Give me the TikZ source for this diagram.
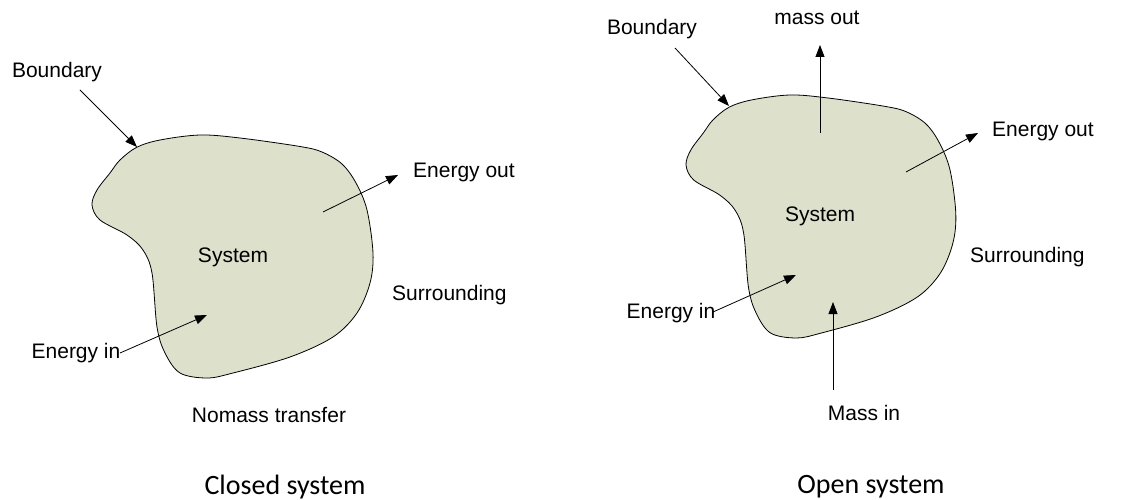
\documentclass[tikz,border=0pt]{standalone}
\usepackage{fontspec}
\setmainfont{Liberation Sans}
\newfontfamily\calibrifont{Carlito}
\usetikzlibrary{arrows.meta}
\definecolor{blobfill}{RGB}{221,225,204}
\newcommand\blobshape{plot[smooth cycle, tension=0.55] coordinates {
 (136.7,147.3) (160,140) (200,135) (240,138) (300,146.5) (322,152) (342,164)
 (356,183) (367,210) (373,253) (370,283) (357,313) (333,337) (290,357) (233,373)
 (207,378) (180,373) (165,353) (157,327) (152,273) (143,250) (127,235)
 (100,220) (92,205) (97,190) (110,173) (120,160)}}
\tikzset{
  lbl/.style={font=\fontsize{21}{24}\selectfont, inner sep=0pt},
  title/.style={font=\calibrifont\fontsize{28}{32}\selectfont, inner sep=0pt},
  arr/.style={line width=0.8pt, -{Triangle[length=12pt,width=9pt]}},
  blob/.style={draw=black, line width=0.8pt, fill=blobfill}
}
\begin{document}
\begin{tikzpicture}[x=1pt,y=-1pt]
\useasboundingbox (0,0) rectangle (1125,500);
% ---------- closed system ----------
\path[blob] \blobshape;
\node[lbl] (bL) at (57,72) {Boundary};
\node[lbl] (sysL) at (233,257) {System};
\node[lbl, anchor=west] (eoL) at (413,172) {Energy out};
\node[lbl, anchor=west] (surL) at (392,295) {Surrounding};
\node[lbl] (eiL) at (76,353) {Energy in};
\node[lbl] (nmL) at (269,415) {Nomass transfer};
\node[title] (tL) at (285,487) {Closed system};
\coordinate (bLs) at (80,90);   \coordinate (bLe) at (137,147);
\coordinate (eoLs) at (323,212); \coordinate (eoLe) at (398,175);
\coordinate (eiLs) at (120,353); \coordinate (eiLe) at (207,315);
\draw[arr] (bLs) -- (bLe);
\draw[arr] (eoLs) -- (eoLe);
\draw[arr] (eiLs) -- (eiLe);
% ---------- open system ----------
\begin{scope}[shift={(597.7,-40)}, xscale=0.96]
\path[blob] \blobshape;
\end{scope}
\node[lbl] (bR) at (652,29) {Boundary};
\node[lbl] (moR) at (817,18) {mass out};
\node[lbl] (sysR) at (820,216) {System};
\node[lbl, anchor=west] (eoR) at (992,131) {Energy out};
\node[lbl, anchor=west] (surR) at (970,257) {Surrounding};
\node[lbl] (eiR) at (671,313) {Energy in};
\node[lbl] (miR) at (864,413) {Mass in};
\node[title] (tR) at (871,487) {Open system};
\coordinate (bRs) at (675,48);   \coordinate (bRe) at (729,106);
\coordinate (moRs) at (820,133); \coordinate (moRe) at (820,45);
\coordinate (eoRs) at (906,172); \coordinate (eoRe) at (978,133);
\coordinate (eiRs) at (713,312); \coordinate (eiRe) at (796,275);
\coordinate (miRs) at (833,390); \coordinate (miRe) at (833,302);
\draw[arr] (bRs) -- (bRe);
\draw[arr] (moRs) -- (moRe);
\draw[arr] (eoRs) -- (eoRe);
\draw[arr] (eiRs) -- (eiRe);
\draw[arr] (miRs) -- (miRe);
\end{tikzpicture}
\end{document}
